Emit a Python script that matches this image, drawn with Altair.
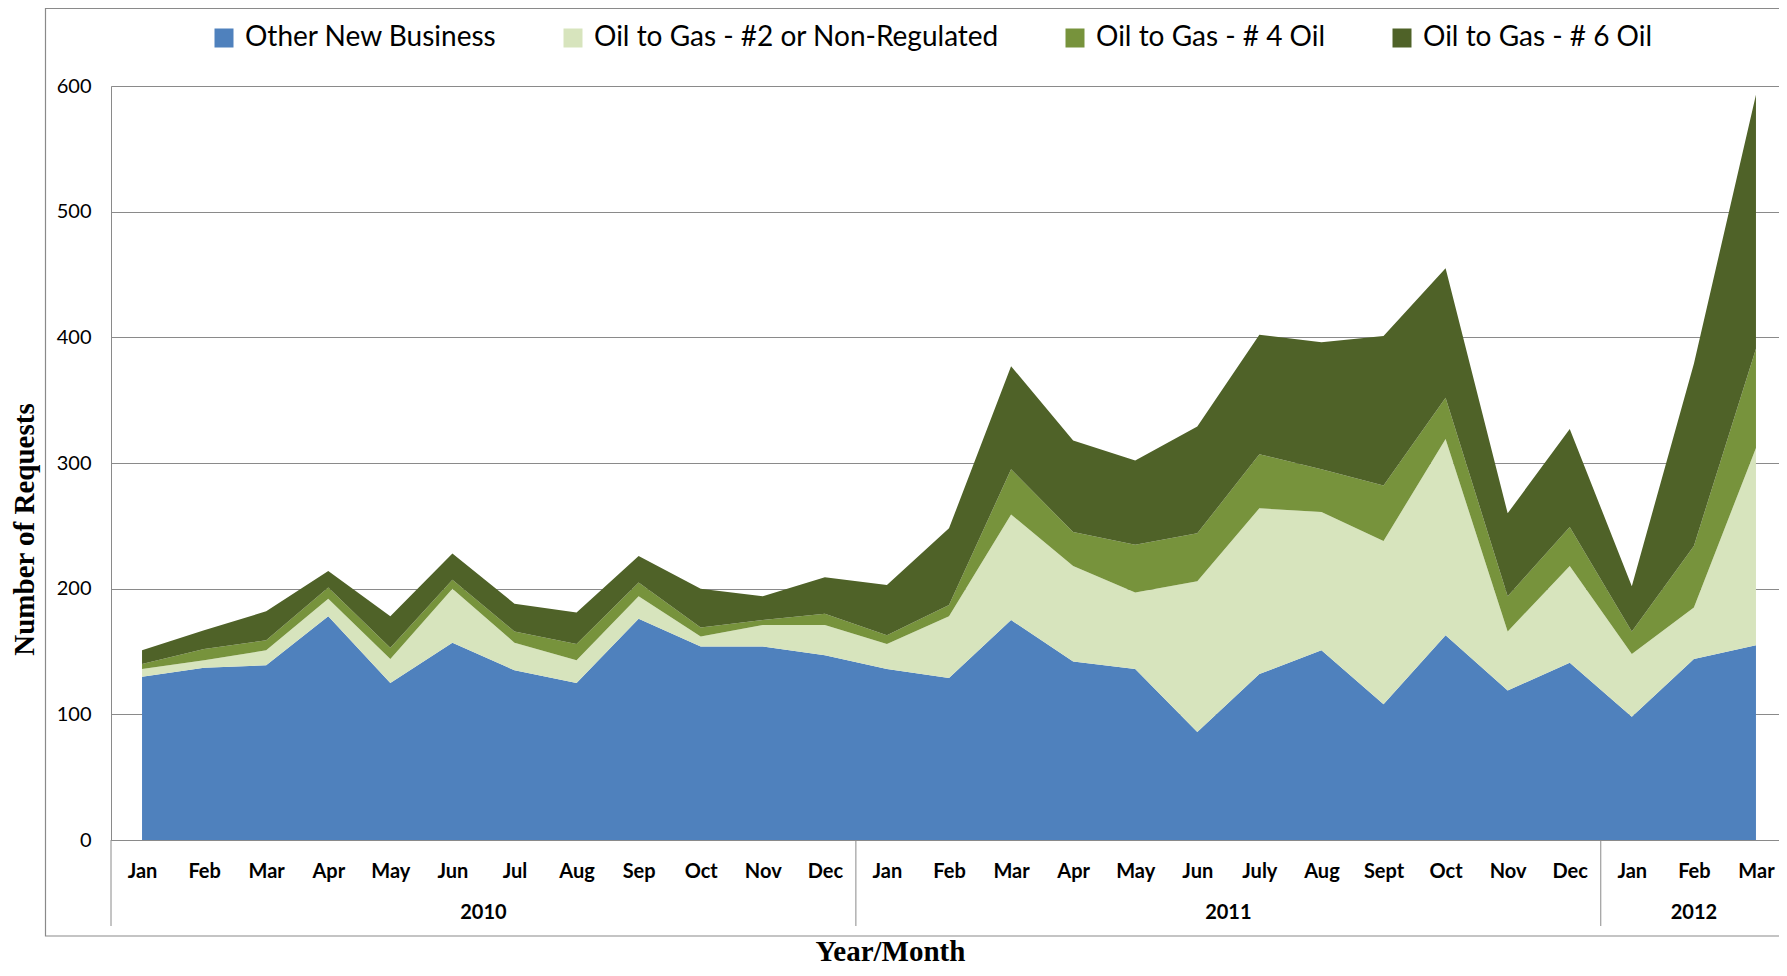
import altair as alt
import pandas as pd

months = ["Jan", "Feb", "Mar", "Apr", "May", "Jun", "Jul", "Aug", "Sep", "Oct", "Nov", "Dec",
          "Jan", "Feb", "Mar", "Apr", "May", "Jun", "July", "Aug", "Sept", "Oct", "Nov", "Dec",
          "Jan", "Feb", "Mar"]
years = ["2010"] * 12 + ["2011"] * 12 + ["2012"] * 3

series_names = ["Other New Business", "Oil to Gas - #2 or Non-Regulated",
                "Oil to Gas - # 4 Oil", "Oil to Gas - # 6 Oil"]
other_new = [130, 137, 139, 178, 125, 157, 135, 125, 176, 154, 154, 147,
             136, 129, 175, 142, 136, 86, 132, 151, 108, 163, 119, 141,
             98, 144, 155]
oil_2 = [6, 6, 12, 14, 19, 43, 22, 18, 18, 8, 17, 24,
         20, 49, 84, 76, 61, 120, 132, 110, 130, 156, 47, 77,
         50, 41, 157]
oil_4 = [4, 9, 8, 9, 9, 7, 9, 13, 11, 7, 4, 9,
         7, 9, 36, 27, 38, 38, 43, 34, 44, 33, 28, 31,
         18, 49, 79]
oil_6 = [11, 15, 23, 13, 25, 21, 22, 25, 21, 31, 19, 29,
         40, 61, 82, 73, 67, 85, 95, 101, 119, 103, 66, 78,
         36, 145, 202]
colors = ["#4F81BD", "#D7E4BD", "#77933C", "#4F6228"]
y_ticks = [0, 100, 200, 300, 400, 500, 600]

GRAY = "#8A8A8A"
W, H = 1676, 754

# long table for stacked areas
rows = []
for rank, (name, vals) in enumerate(zip(series_names, [other_new, oil_2, oil_4, oil_6])):
    for i, v in enumerate(vals):
        rows.append({"idx": i, "series": name, "value": v, "rank": rank})
df = pd.DataFrame(rows)

# year groups (computed from the month table)
mdf = pd.DataFrame({"idx": list(range(len(months))), "year": years})
year_df = mdf.groupby("year", as_index=False)["idx"].mean()
bounds = sorted(set(list(mdf.groupby("year")["idx"].min() - 0.5) + [len(months) - 0.5]))
bound_df = pd.DataFrame({"idx": bounds})

label_expr = "[" + ",".join("'" + m + "'" for m in months) + "][datum.value]"

area = alt.Chart(df).mark_area(interpolate="linear").encode(
    x=alt.X("idx:Q",
            scale=alt.Scale(domain=[-0.5, len(months) - 0.5], nice=False, zero=False),
            axis=alt.Axis(values=list(range(len(months))), labelExpr=label_expr,
                          title="Year/Month", grid=False, ticks=False, tickSize=0,
                          domain=True, domainColor=GRAY, domainWidth=1,
                          labelPadding=31, labelBaseline="middle", labelFlush=False,
                          labelOverlap=False, labelBound=False,
                          labelFont="Lato", labelFontWeight="bold", labelFontSize=20,
                          labelColor="#000000",
                          titleFont="Liberation Serif", titleFontWeight="bold",
                          titleFontSize=29, titleColor="#000000",
                          titleX=779, titleY=120, titleAlign="center",
                          titleBaseline="alphabetic")),
    y=alt.Y("value:Q", stack="zero",
            scale=alt.Scale(domain=[0, 600], nice=False),
            axis=alt.Axis(values=y_ticks, grid=True, gridColor=GRAY, gridWidth=1,
                          ticks=False, tickSize=0, domain=True, domainColor=GRAY,
                          labelPadding=20, labelFont="Lato", labelFontSize=20,
                          labelColor="#000000",
                          title="Number of Requests", titleFont="Liberation Serif",
                          titleFontWeight="bold", titleFontSize=29, titleColor="#000000",
                          titleX=-87, titleY=443, titleAngle=270, titleAlign="center",
                          titleBaseline="middle")),
    color=alt.Color("series:N",
                    scale=alt.Scale(domain=series_names, range=colors),
                    legend=alt.Legend(orient="none", direction="horizontal",
                                      legendX=99, legendY=-62, title=None,
                                      symbolType="square", symbolSize=361,
                                      symbolStrokeWidth=0, symbolOpacity=1,
                                      labelFont="Lato", labelFontSize=28,
                                      labelColor="#000000", labelOffset=7,
                                      labelLimit=1000, columnPadding=62, padding=0)),
    order=alt.Order("rank:Q", sort="ascending"),
)

seps = alt.Chart(bound_df).mark_rule(color=GRAY, strokeWidth=1).encode(
    x="idx:Q",
    y=alt.value(H),
    y2=alt.value(H + 86),
)

year_text = alt.Chart(year_df).mark_text(
    font="Lato", fontWeight="bold", fontSize=20, color="#000000",
    baseline="middle", align="center"
).encode(
    x="idx:Q",
    y=alt.value(H + 73),
    text="year:N",
)

frame = alt.Chart(pd.DataFrame({"k": [0]})).mark_rect(
    filled=False, stroke=GRAY, strokeWidth=1.2
).encode(
    x=alt.value(-65.5), x2=alt.value(W - 0.5),
    y=alt.value(-77.5), y2=alt.value(H + 96),
)

# the svg is kept 8px narrower than the plot so the page does not overflow;
# only the empty right margin of the last half-band is clipped
chart = alt.layer(frame, seps, year_text, area).properties(
    width=W, height=H,
    padding={"left": 103, "top": 78, "right": -8, "bottom": 127},
    autosize="none",
).configure_view(stroke=None).configure(background="white")

chart.save("out.html", embed_options={"renderer": "svg", "actions": False})
